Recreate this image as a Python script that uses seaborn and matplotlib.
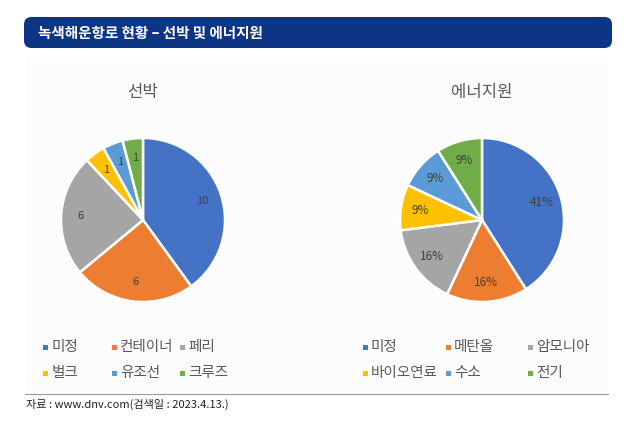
import matplotlib
matplotlib.use("Agg")
import numpy as np
import matplotlib.pyplot as plt
import seaborn as sns
from matplotlib.patches import FancyBboxPatch, Rectangle
from matplotlib.lines import Line2D

# 데이터
title_text = "녹색해운항로 현황 – 선박 및 에너지원"
source_text = "자료 : www.dnv.com(검색일 : 2023.4.13.)"

ship_title = "선박"
ship_labels = ["미정", "컨테이너", "페리", "벌크", "유조선", "크루즈"]
ship_values = [10, 6, 6, 1, 1, 1]

energy_title = "에너지원"
energy_labels = ["미정", "메탄올", "암모니아", "바이오연료", "수소", "전기"]
energy_values = [41, 16, 16, 9, 9, 9]

colors = ["#4472C4", "#ED7D31", "#A5A5A5", "#FFC000", "#5B9BD5", "#70AD47"]

sns.set_theme(style="white")
plt.rcParams["font.family"] = ["Noto Sans CJK KR", "DejaVu Sans"]

W, H = 629, 429
fig = plt.figure(figsize=(W / 100, H / 100), dpi=100)
fig.patch.set_facecolor("white")


def fx(px):
    return px / W


def fy(py):
    return 1 - py / H


# 배경 영역
fig.patches.append(Rectangle((fx(26), fy(392)), fx(608) - fx(26), fy(57) - fy(392),
                             transform=fig.transFigure, facecolor="#FCFCFC",
                             edgecolor="none", zorder=-5))

# 제목 바
fig.patches.append(FancyBboxPatch((fx(24), fy(48)), fx(612) - fx(24), fy(17) - fy(48),
                                  boxstyle="round,pad=0,rounding_size=0.012",
                                  transform=fig.transFigure, facecolor="#0D3586",
                                  edgecolor="none", mutation_aspect=W / H, zorder=1))
fig.text(fx(38), fy(32.5), title_text, color="white", fontsize=10.5,
         fontweight="bold", va="center", ha="left")


def draw_pie(cx, cy, r, values, title, fmt, fs):
    ax = fig.add_axes([fx(cx - r), fy(cy + r), 2 * r / W, 2 * r / H], zorder=2)
    ax.pie(values, colors=colors, startangle=90, counterclock=False,
           wedgeprops=dict(edgecolor="white", linewidth=1.8))
    total = sum(values)
    start = 90
    for v in values:
        ang = np.deg2rad(start - v / total * 360 / 2)
        ax.text(0.76 * np.cos(ang), 0.76 * np.sin(ang), fmt(v), ha="center",
                va="center", fontsize=fs, color="#404040")
        start -= v / total * 360
    ax.set_xlim(-1, 1)
    ax.set_ylim(-1, 1)
    ax.set_aspect("equal")
    ax.axis("off")
    fig.text(fx(cx), fy(93), title, ha="center", va="center", fontsize=12,
             color="#595959")


draw_pie(143, 220, 82, ship_values, ship_title, lambda v: f"{v}", 8)
draw_pie(482, 220, 82, energy_values, energy_title, lambda v: f"{v}%", 8.5)


def draw_legend(xs, labels):
    rows = [347, 373]
    for i, (lab, c) in enumerate(zip(labels, colors)):
        x = xs[i % 3]
        y = rows[i // 3]
        fig.patches.append(Rectangle((fx(x - 2.5), fy(y + 2.5)), 5 / W, 5 / H,
                                     transform=fig.transFigure, facecolor=c,
                                     edgecolor="none"))
        fig.text(fx(x + 6), fy(y), lab, ha="left", va="center", fontsize=10.5,
                 color="#595959")


draw_legend([46, 114, 182], ship_labels)
draw_legend([365, 448, 530], energy_labels)

# 구분선과 출처
fig.add_artist(Line2D([fx(25), fx(608)], [fy(394), fy(394)], transform=fig.transFigure,
                      color="#999999", linewidth=0.8))
fig.text(fx(26), fy(404.5), source_text, ha="left", va="center", fontsize=8,
         color="#222222")

fig.savefig("out.png", dpi=100)
